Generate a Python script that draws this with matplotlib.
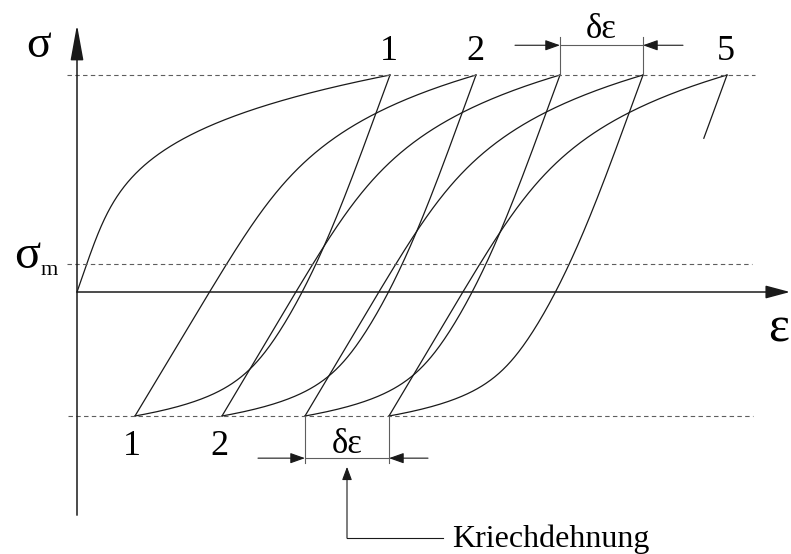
import numpy as np
import matplotlib.pyplot as plt

# Spannungsniveaus (schematisch)
sig_max = 350.0
sig_min = -200.0
sig_m = 45.0

# Dehnungen an den Umkehrpunkten der Zyklen
eps_peak = [3.13, 3.99, 4.83, 5.66, 6.50]
eps_valley = [0.58, 1.45, 2.28, 3.12]
top_labels = ["1", "2", "", "", "5"]
bottom_labels = ["1", "2", "", ""]
sig_tail = 248.0  # angedeutete Entlastung nach Zyklus 5

INK = "#1a1a1a"
GREY = "#5e5e5e"
SERIF = ["Liberation Serif", "DejaVu Serif"]

# Form der Äste: eps_norm = a*s + sum(c * s**n)
FIRST = (0.24, [(0.76, 4.3)])
LOAD = (0.60, [(0.40, 7.0)])
UNLOAD = (0.49, [(0.20, 4.0), (0.31, 20.0)])


def branch(s, law):
    a, terms = law
    out = a * s
    for c, n in terms:
        out = out + c * s ** n
    return out


def arrow(ax, tip, tail, hl, hw, lw=0.8):
    ax.annotate("", xy=tip, xytext=tail,
                arrowprops=dict(arrowstyle=f"-|>,head_length={hl},head_width={hw}",
                                mutation_scale=10, lw=lw, color=INK,
                                shrinkA=0, shrinkB=0))


def main():
    fig = plt.figure(figsize=(7.91, 5.54), dpi=100)
    ax = fig.add_axes([0, 0, 1, 1])
    ax.set_xlim(-0.77, 7.14)
    ax.set_ylim(-422.6, 471.0)
    ax.axis("off")

    s = np.linspace(0, 1, 400)
    dsig = sig_max - sig_min
    kw = dict(color=INK, lw=0.9, solid_joinstyle="miter")

    # Erstbelastung
    ax.plot(eps_peak[0] * branch(s, FIRST), s * sig_max, **kw)

    for i in range(len(eps_valley)):
        # Entlastung
        d = eps_peak[i] - eps_valley[i]
        ax.plot(eps_peak[i] - d * branch(s, UNLOAD), sig_max - s * dsig, **kw)
        # Wiederbelastung
        d = eps_peak[i + 1] - eps_valley[i]
        ax.plot(eps_valley[i] + d * branch(s, LOAD), sig_min + s * dsig, **kw)

    # Beginn der Entlastung nach dem letzten Zyklus
    d = np.mean(np.subtract(eps_peak[:-1], eps_valley))
    st = np.linspace(0, (sig_max - sig_tail) / dsig, 50)
    ax.plot(eps_peak[-1] - d * branch(st, UNLOAD), sig_max - st * dsig, **kw)

    # Hilfslinien
    dash = dict(color=GREY, lw=0.8, dashes=(4, 3))
    ax.plot([-0.10, 6.78], [sig_max, sig_max], **dash)
    ax.plot([-0.10, 6.75], [sig_m, sig_m], **dash)
    ax.plot([-0.09, 6.76], [sig_min, sig_min], **dash)

    # Achsen
    arrow(ax, (0, 431), (0, -360), 2.2, 0.4, lw=1.1)
    arrow(ax, (7.13, 0), (0, 0), 1.5, 0.4, lw=1.1)

    ax.text(-0.38, 379, "σ", fontsize=33, family=SERIF, ha="center", va="baseline")
    ax.text(-0.50, 38.7, "σ", fontsize=35, family=SERIF, ha="center", va="baseline")
    ax.text(-0.36, 27.4, "m", fontsize=16, family=SERIF, ha="left", va="baseline")
    ax.text(7.02, -80.6, "ε", fontsize=36, family=SERIF, ha="center", va="baseline")

    for e, lab in zip(eps_peak, top_labels):
        ax.text(e - 0.01, 374, lab, fontsize=26, family=SERIF, ha="center", va="baseline")
    for e, lab in zip(eps_valley, bottom_labels):
        ax.text(e - 0.03, -263, lab, fontsize=26, family=SERIF, ha="center", va="baseline")

    # Bemaßung oben: Dehnungszuwachs je Zyklus
    e0, e1 = eps_peak[2], eps_peak[3]
    for e in (e0, e1):
        ax.plot([e, e], [sig_max, 411], color=GREY, lw=0.8)
    ax.plot([e0, e1], [398, 398], color=GREY, lw=0.8)
    arrow(ax, (e0, 398), (e0 - 0.45, 398), 0.9, 0.32)
    arrow(ax, (e1, 398), (e1 + 0.40, 398), 0.9, 0.32)
    ax.text((e0 + e1) / 2, 409.7, "δε", fontsize=25, family=SERIF, ha="center", va="baseline")

    # Bemaßung unten
    e0, e1 = eps_valley[2], eps_valley[3]
    for e in (e0, e1):
        ax.plot([e, e], [sig_min, -276], color=GREY, lw=0.8)
    ax.plot([e0, e1], [-268, -268], color=GREY, lw=0.8)
    arrow(ax, (e0, -268), (e0 - 0.47, -268), 0.9, 0.32)
    arrow(ax, (e1, -268), (e1 + 0.39, -268), 0.9, 0.32)
    ax.text((e0 + e1) / 2, -259.7, "δε", fontsize=25, family=SERIF, ha="center", va="baseline")

    # Hinweis Kriechdehnung
    em = (e0 + e1) / 2
    arrow(ax, (em, -282), (em, -397), 0.8, 0.3)
    ax.plot([em, 3.66], [-397, -397], color=INK, lw=0.8)
    ax.text(3.75, -411, "Kriechdehnung", fontsize=23, family=SERIF, ha="left", va="baseline")

    fig.savefig("out.png", dpi=100)


if __name__ == "__main__":
    main()
